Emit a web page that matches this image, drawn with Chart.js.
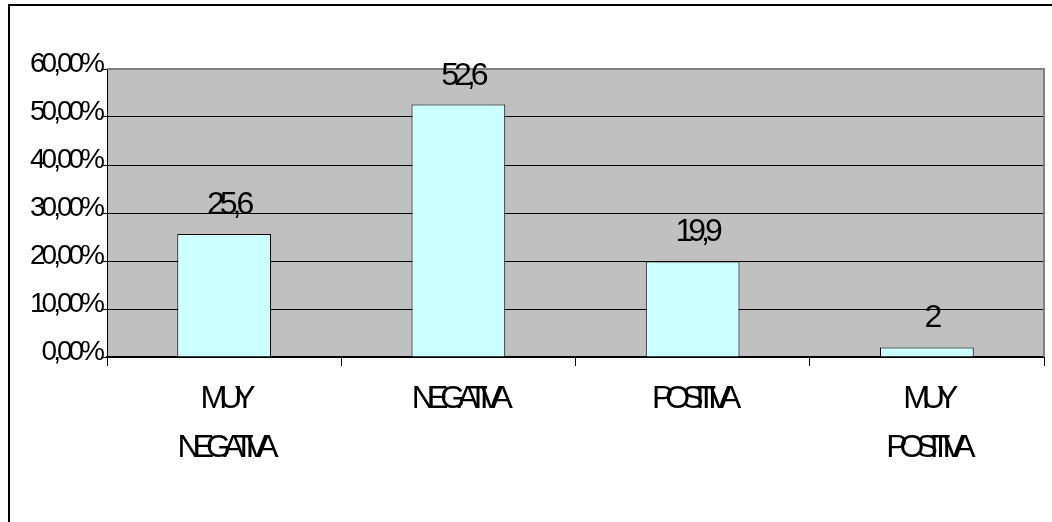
<!DOCTYPE html>
<html>
<head>
<meta charset="utf-8">
<script src="https://cdn.jsdelivr.net/npm/chart.js@4/dist/chart.umd.min.js"></script>
<style>
  body { margin: 0; background: #fff; }
  #wrap { width: 1052px; height: 522px; }
</style>
</head>
<body>
<div id="wrap"><canvas id="chart"></canvas></div>
<script>
const categories = [['MUY', 'NEGATIVA'], 'NEGATIVA', 'POSITIVA', ['MUY', 'POSITIVA']];
const values = [25.6, 52.6, 19.9, 2];
const yTicks = [0, 10, 20, 30, 40, 50, 60];

const FONT = "'Liberation Sans', Arial, sans-serif";

// squeeze the labels like the original export does
function squeeze(scale, spacing) {
  if (scale._squeezed) return;
  const orig = scale.drawLabels;
  scale.drawLabels = function (area) {
    const ctx = this.ctx;
    ctx.save();
    ctx.letterSpacing = spacing;
    orig.call(this, area);
    ctx.restore();
  };
  scale._squeezed = true;
}

const framePlugin = {
  id: 'frame',
  beforeDraw(chart) {
    const { ctx, chartArea } = chart;
    squeeze(chart.scales.y, '-4px');
    squeeze(chart.scales.x, '-8px');
    ctx.save();
    // outer border
    ctx.strokeStyle = '#000';
    ctx.lineWidth = 2;
    ctx.beginPath();
    ctx.moveTo(9, 522);
    ctx.lineTo(9, 5);
    ctx.lineTo(1052, 5);
    ctx.stroke();
    // plot background
    ctx.fillStyle = '#c0c0c0';
    ctx.fillRect(chartArea.left, chartArea.top, chartArea.right - chartArea.left, chartArea.bottom - chartArea.top);
    ctx.restore();
  },
  beforeDatasetsDraw(chart) {
    const { ctx, chartArea } = chart;
    ctx.save();
    ctx.strokeStyle = '#808080';
    ctx.lineWidth = 2;
    ctx.beginPath();
    ctx.moveTo(chartArea.left, chartArea.top);
    ctx.lineTo(chartArea.right, chartArea.top);
    ctx.lineTo(chartArea.right, chartArea.bottom);
    ctx.stroke();
    ctx.restore();
  },
  afterDatasetsDraw(chart) {
    const ctx = chart.ctx;
    const meta = chart.getDatasetMeta(0);
    ctx.save();
    ctx.font = '32px ' + FONT;
    ctx.letterSpacing = '-5px';
    ctx.fillStyle = '#000';
    ctx.textAlign = 'center';
    ctx.textBaseline = 'alphabetic';
    meta.data.forEach((bar, i) => {
      const txt = String(values[i]).replace('.', ',');
      ctx.fillText(txt, bar.x + 4, bar.y - 20);
    });
    ctx.restore();
  },
};

new Chart(document.getElementById('chart'), {
  type: 'bar',
  data: {
    labels: categories,
    datasets: [
      {
        data: values,
        backgroundColor: '#ccffff',
        borderColor: '#000',
        borderWidth: 1,
        barPercentage: 0.4,
        categoryPercentage: 1,
      },
    ],
  },
  options: {
    responsive: true,
    maintainAspectRatio: false,
    animation: false,
    layout: {
      padding: { top: 69, right: 8, left: 0, bottom: 0 },
    },
    plugins: {
      legend: { display: false },
      tooltip: { enabled: false },
    },
    scales: {
      x: {
        afterFit: (scale) => {
          scale.height = 165;
        },
        grid: {
          drawOnChartArea: false,
          offset: true,
          tickLength: 9,
          color: '#000',
        },
        border: { color: '#000', width: 2 },
        ticks: {
          color: '#000',
          padding: 9,
          font: { family: FONT, size: 32, lineHeight: 1.53 },
          maxRotation: 0,
          autoSkip: false,
        },
      },
      y: {
        min: yTicks[0],
        max: yTicks[yTicks.length - 1],
        afterFit: (scale) => {
          scale.width = 107;
        },
        afterBuildTicks: (scale) => {
          scale.ticks = yTicks.map((v) => ({ value: v }));
        },
        grid: {
          color: '#000',
          tickLength: 6,
        },
        border: { color: '#000', width: 1 },
        ticks: {
          color: '#000',
          padding: 0,
          labelOffset: -5,
          font: { family: FONT, size: 28 },
          callback: (v) => v.toFixed(2).replace('.', ',') + '%',
        },
      },
    },
  },
  plugins: [framePlugin],
});
</script>
</body>
</html>
